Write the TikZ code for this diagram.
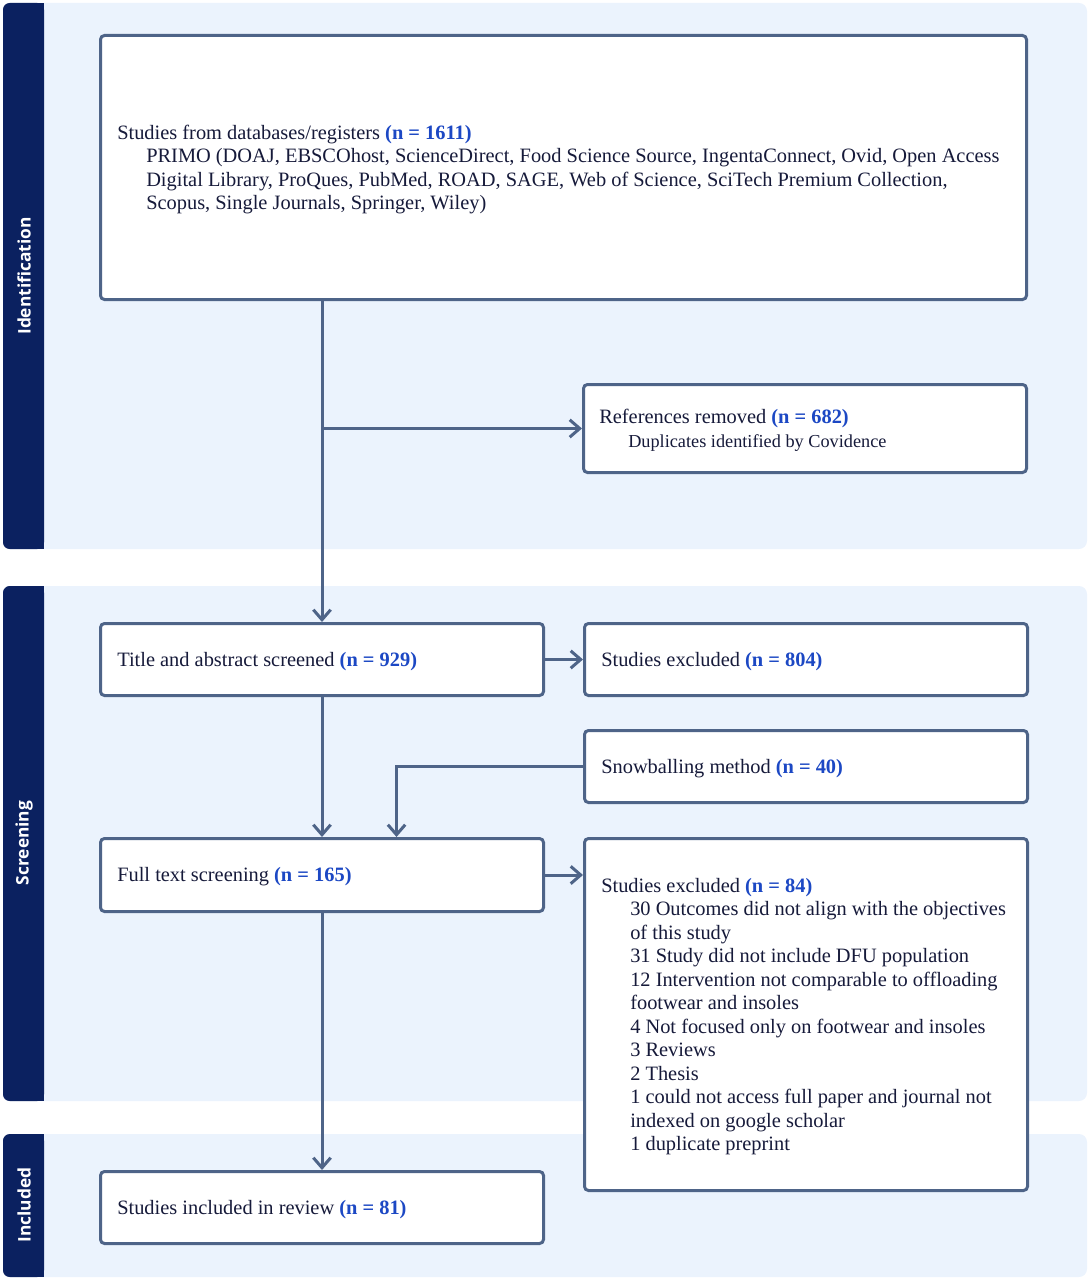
\documentclass[tikz,border=0pt]{standalone}
\usepackage{fontspec}
\setmainfont{Liberation Serif}
\newfontfamily\labfont{Open Sans}
\usetikzlibrary{arrows.meta}
\definecolor{navy}{RGB}{11,33,96}
\definecolor{panelbg}{RGB}{235,243,253}
\definecolor{boxc}{RGB}{78,100,136}
\definecolor{nblue}{RGB}{28,72,196}
\definecolor{txt}{RGB}{22,26,58}
\newcommand\nb[1]{\textcolor{nblue}{\textbf{#1}}}
\newcommand\ind{\hspace*{21.75pt}}
\begin{document}
\begin{tikzpicture}[x=0.75pt,y=-0.75pt,
  boxstyle/.style={draw=boxc,line width=2.25pt,rounded corners=3pt,fill=white,
    anchor=north west,inner sep=0pt,minimum width=332.25pt,minimum height=54pt},
  boxtext/.style={anchor=west,inner sep=0pt,align=left,text=txt,yshift=-1.5pt,
    font=\fontsize{15.3pt}{17.6pt}\selectfont},
  conn/.style={draw=boxc,line width=2.25pt,-{Straight Barb[length=7.5pt,width=13pt]}},
  sidelab/.style={rotate=90,text=white,font=\labfont\bfseries\fontsize{13pt}{15pt}\selectfont}]
\useasboundingbox (0,0) rectangle (1090,1280);
% panels
\fill[panelbg,rounded corners=6pt] (3,3) rectangle (1087,549);
\fill[panelbg,rounded corners=6pt] (3,586) rectangle (1087,1101);
\fill[panelbg,rounded corners=6pt] (3,1134) rectangle (1087,1277);
\fill[navy,rounded corners=5pt] (3,3) rectangle (44,549);
\fill[navy] (30,3) rectangle (44,549);
\fill[navy,rounded corners=5pt] (3,586) rectangle (44,1101);
\fill[navy] (30,586) rectangle (44,1101);
\fill[navy,rounded corners=5pt] (3,1134) rectangle (44,1277);
\fill[navy] (30,1134) rectangle (44,1277);
\node[sidelab] (lid) at (24,276) {Identification};
\node[sidelab] (lsc) at (24,843) {Screening};
\node[sidelab] (lin) at (24,1205) {Included};
% boxes
\node[boxstyle,minimum width=694.5pt,minimum height=198pt] (top) at (99,34) {};
\node[boxstyle,minimum height=66pt] (ref) at (582,383) {};
\node[boxstyle] (title) at (99,622) {};
\node[boxstyle] (ex1) at (583,622) {};
\node[boxstyle] (snow) at (583,729) {};
\node[boxstyle,minimum height=54.75pt] (full) at (99,837) {};
\node[boxstyle,minimum height=264pt] (ex2) at (583,837) {};
\node[boxstyle] (incl) at (99,1170) {};
% texts
\node[boxtext] (ttop) at ([xshift=13.5pt]top.west)
 {Studies from databases/registers \nb{(n = 1611)}\\
  \ind PRIMO (DOAJ, EBSCOhost, ScienceDirect, Food Science Source, IngentaConnect, Ovid, Open Access\\
  \ind Digital Library, ProQues, PubMed, ROAD, SAGE, Web of Science, SciTech Premium Collection,\\
  \ind Scopus, Single Journals, Springer, Wiley)};
\node[boxtext] (tref) at ([xshift=12.75pt]ref.west)
 {References removed \nb{(n = 682)}\\
  {\fontsize{13.7pt}{16.5pt}\selectfont\ind Duplicates identified by Covidence}};
\node[boxtext] (ttitle) at ([xshift=13.5pt]title.west) {Title and abstract screened \nb{(n = 929)}};
\node[boxtext] (tex1) at ([xshift=13.5pt]ex1.west) {Studies excluded \nb{(n = 804)}};
\node[boxtext] (tsnow) at ([xshift=13.5pt]snow.west) {Snowballing method \nb{(n = 40)}};
\node[boxtext] (tfull) at ([xshift=13.5pt]full.west) {Full text screening \nb{(n = 165)}};
\node[boxtext] (tex2) at ([xshift=13.5pt]ex2.west)
 {Studies excluded \nb{(n = 84)}\\
  \ind 30 Outcomes did not align with the objectives\\
  \ind of this study\\
  \ind 31 Study did not include DFU population\\
  \ind 12 Intervention not comparable to offloading\\
  \ind footwear and insoles\\
  \ind 4 Not focused only on footwear and insoles\\
  \ind 3 Reviews\\
  \ind 2 Thesis\\
  \ind 1 could not access full paper and journal not\\
  \ind indexed on google scholar\\
  \ind 1 duplicate preprint};
\node[boxtext] (tincl) at ([xshift=13.5pt]incl.west) {Studies included in review \nb{(n = 81)}};
% connectors
\draw[conn] (top.south -| title.north) -- (title.north);
\draw[conn] (top.south -| title.north) |- (ref.west);
\draw[conn] (title.east) -- (ex1.west);
\draw[conn] (title.south) -- (full.north);
\draw[conn] (snow.west) -| ([xshift=55.9pt]full.north);
\draw[conn] (full.east) -- (full.east -| ex2.west);
\draw[conn] (full.south) -- (incl.north);
\end{tikzpicture}
\end{document}
